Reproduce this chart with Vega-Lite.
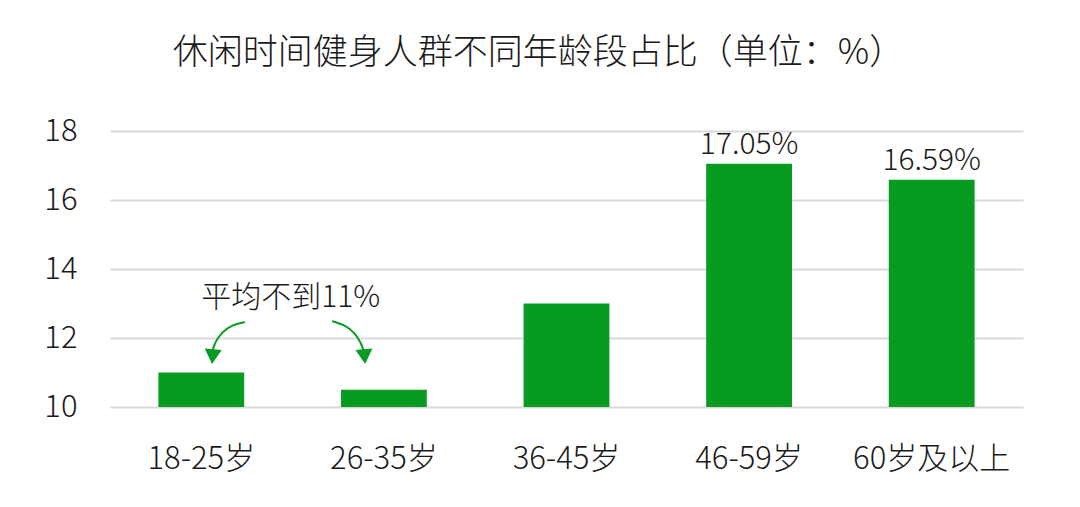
{
  "$schema": "https://vega.github.io/schema/vega-lite/v6.json",
  "width": 913,
  "height": 276,
  "autosize": "none",
  "padding": {"left": 110, "top": 131, "right": 57, "bottom": 100},
  "background": "white",
  "title": {
    "text": "休闲时间健身人群不同年龄段占比（单位：%）",
    "font": "Noto Sans CJK SC",
    "fontSize": 35,
    "fontWeight": 300,
    "color": "#1a1a1a",
    "anchor": "middle",
    "dx": -28,
    "offset": 44
  },
  "config": {
    "view": {"stroke": null},
    "font": "Noto Sans CJK SC",
    "axis": {"labelFontWeight": 300},
    "text": {"fontWeight": 300}
  },
  "datasets": {
    "bars": [
      {"age": "18-25岁", "value": 11.0, "label": ""},
      {"age": "26-35岁", "value": 10.5, "label": ""},
      {"age": "36-45岁", "value": 13.0, "label": ""},
      {"age": "46-59岁", "value": 17.05, "label": "17.05%"},
      {"age": "60岁及以上", "value": 16.59, "label": "16.59%"}
    ],
    "arrows": [
      {"arrow": "left", "order": 1, "pos": 0.739, "value": 12.46},
      {"arrow": "left", "order": 2, "pos": 0.668, "value": 12.38},
      {"arrow": "left", "order": 3, "pos": 0.613, "value": 12.17},
      {"arrow": "left", "order": 4, "pos": 0.575, "value": 11.88},
      {"arrow": "left", "order": 5, "pos": 0.559, "value": 11.59},
      {"arrow": "right", "order": 1, "pos": 1.216, "value": 12.49},
      {"arrow": "right", "order": 2, "pos": 1.287, "value": 12.38},
      {"arrow": "right", "order": 3, "pos": 1.342, "value": 12.14},
      {"arrow": "right", "order": 4, "pos": 1.375, "value": 11.86},
      {"arrow": "right", "order": 5, "pos": 1.391, "value": 11.59}
    ],
    "heads": [
      {"arrow": "left", "pos": 0.562, "value": 11.46, "angle": 5},
      {"arrow": "right", "pos": 1.394, "value": 11.46, "angle": -5}
    ],
    "note": [
      {"pos": 0.99, "value": 13.16, "text": "平均不到11%"}
    ]
  },
  "layer": [
    {
      "data": {"name": "bars"},
      "encoding": {
        "x": {
          "field": "age",
          "type": "nominal",
          "sort": null,
          "scale": {"paddingInner": 0.53, "paddingOuter": 0.265},
          "axis": {
            "title": null,
            "labelAngle": 0,
            "labelFontSize": 31,
            "labelColor": "#1a1a1a",
            "labelPadding": 37,
            "ticks": false,
            "domain": false
          }
        },
        "y": {
          "field": "value",
          "type": "quantitative",
          "scale": {"domain": [10, 18], "zero": false, "nice": false},
          "axis": {
            "title": null,
            "values": [10, 12, 14, 16, 18],
            "labelFontSize": 31,
            "labelColor": "#1a1a1a",
            "labelPadding": 33,
            "ticks": false,
            "domain": false,
            "gridColor": "#d9d9d9",
            "gridWidth": 2
          }
        }
      },
      "layer": [
        {
          "mark": {"type": "bar", "color": "#089B21"},
          "encoding": {"y2": {"datum": 10}}
        },
        {
          "transform": [{"filter": "datum.label != ''"}],
          "mark": {"type": "text", "fontSize": 30, "color": "#1a1a1a", "baseline": "alphabetic", "dy": -10},
          "encoding": {"text": {"field": "label"}}
        }
      ]
    },
    {
      "encoding": {
        "x": {"field": "pos", "type": "quantitative", "scale": {"domain": [0, 5], "nice": false, "zero": false}, "axis": null},
        "y": {"field": "value", "type": "quantitative"}
      },
      "layer": [
        {
          "data": {"name": "arrows"},
          "mark": {"type": "line", "color": "#089B21", "strokeWidth": 2, "interpolate": "basis"},
          "encoding": {
            "detail": {"field": "arrow"},
            "order": {"field": "order"}
          }
        },
        {
          "data": {"name": "heads"},
          "mark": {"type": "point", "shape": "triangle-down", "filled": true, "color": "#089B21", "size": 290, "opacity": 1},
          "encoding": {
            "angle": {"field": "angle", "type": "quantitative", "scale": null}
          }
        },
        {
          "data": {"name": "note"},
          "mark": {"type": "text", "fontSize": 30, "color": "#1a1a1a", "baseline": "middle", "align": "center"},
          "encoding": {"text": {"field": "text"}}
        }
      ]
    }
  ],
  "resolve": {"scale": {"x": "independent"}}
}
